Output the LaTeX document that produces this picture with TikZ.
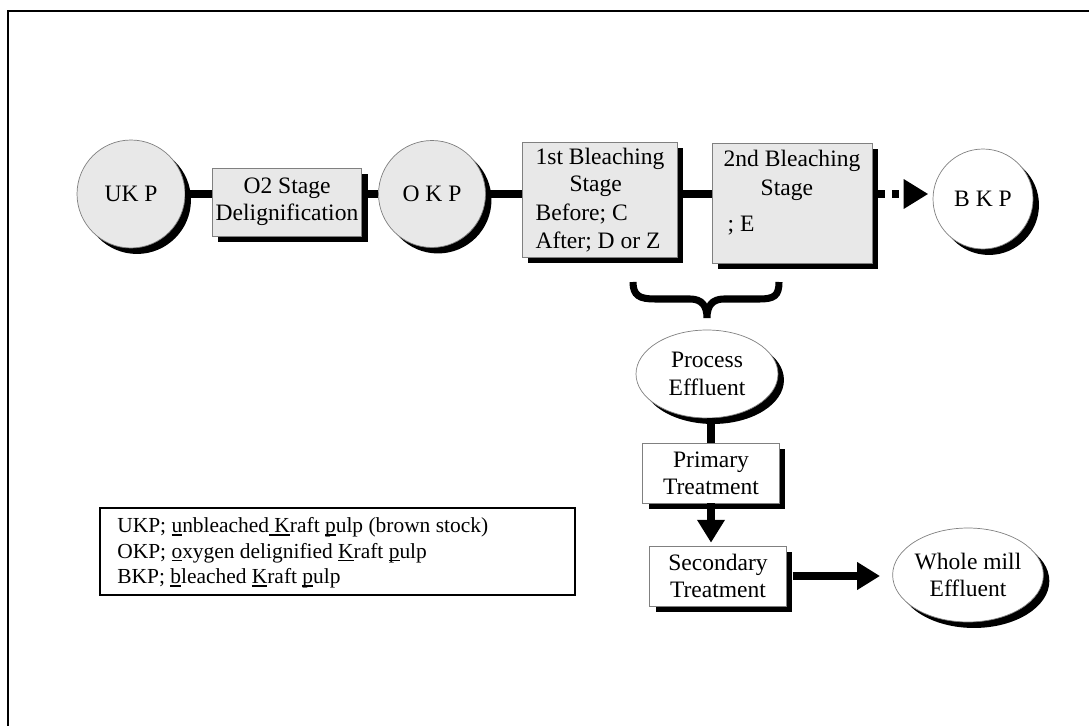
\documentclass[tikz,border=0pt]{standalone}
\usepackage{fontspec}
\setmainfont{Liberation Serif}
\usetikzlibrary{arrows.meta, shapes.geometric, shadows}
\definecolor{PulpGray}{RGB}{232, 232, 232}
\definecolor{EdgeGray}{RGB}{128, 128, 128}
\newcommand\keyletter[1]{\setbox0\hbox{#1}\rlap{\rule[-1.6pt]{\wd0}{0.8pt}}#1}

\begin{document}
\begin{tikzpicture}[x=0.02cm, y=-0.02cm, font=\fontsize{13.4}{15.5}\selectfont,
        blackshadow/.style={drop shadow={shadow xshift=3.4pt, shadow yshift=-3.4pt, opacity=1, fill=black}},
        pulpdisc/.style={circle, draw=EdgeGray, fill=PulpGray, inner sep=0pt, minimum size=2.16cm, blackshadow},
        stagebox/.style={rectangle, draw=EdgeGray, fill=PulpGray, inner sep=2pt, blackshadow},
        treatbox/.style={stagebox, fill=white, align=center, minimum width=2.73cm, minimum height=1.2cm},
        effluent/.style={ellipse, draw=EdgeGray, fill=white, inner sep=0pt, align=center, blackshadow},
        pipe/.style={line width=4.5pt},
        flow/.style={pipe, -{Triangle[length=13pt, width=15pt]}}]
        \useasboundingbox (0,0) rectangle (1089,726);
        \draw[line width=1.6pt] (8,726) -- (8,11) -- (1089,11);

        \node[pulpdisc] (ukp) at (131,194) {UK P};
        \node[stagebox, align=center, minimum width=2.98cm, minimum height=1.36cm] (o2) at (287,202) {O2 Stage\\Delignification};
        \node[pulpdisc, minimum size=2.14cm] (okp) at (432,194) {O K P};
        \node[stagebox, align=left, minimum width=3.1cm, minimum height=2.3cm] (bleach1) at (600,200) {1st Bleaching\\\hspace*{0.68cm}Stage\\[1pt]Before; C\\After; D or Z};
        \node[stagebox, align=left, minimum width=3.2cm, minimum height=2.4cm] (bleach2) at (792,203) {2nd Bleaching\\[1pt]\hspace*{0.74cm}Stage\\[5pt]\hspace*{0.08cm}; E\\[-6pt]\strut};
        \node[pulpdisc, fill=white, minimum size=2.0cm] (bkp) at (983,199) {B K P};

        \draw[pipe] (ukp) -- (ukp -| o2.west);
        \draw[pipe] (o2.east |- okp) -- (okp);
        \draw[pipe] (okp) -- (okp -| bleach1.west);
        \draw[pipe] (bleach1.east |- okp) -- (bleach2.west |- okp);
        \draw[pipe, dash pattern=on 4pt off 4pt, shorten <=3.4pt, shorten >=2.5pt, -{Triangle[length=14pt, width=16pt]}] (bleach2.east |- okp) -- (bkp.west |- okp);

        \draw[line width=4pt] (633,282) .. controls (633,296) and (640,299) .. (655,299) -- (690,299) .. controls (702,299) and (707,306) .. (707,318) .. controls (707,306) and (712,299) .. (724,299) -- (759,299) .. controls (774,299) and (779,296) .. (779,282);

        \node[effluent, minimum width=2.84cm, minimum height=1.76cm] (proc) at (707,374) {Process\\Effluent};
        \node[treatbox] (prim) at (711,473) {Primary\\Treatment};
        \node[treatbox] (second) at (718,576) {Secondary\\Treatment};
        \node[effluent, minimum width=2.8cm, minimum height=1.88cm] (whole) at (968,575) {Whole mill\\Effluent};

        \draw[pipe] (prim.north) -- (prim.north |- proc.south);
        \draw[flow, shorten >=1.7pt] (prim) -- (prim |- second.north);
        \draw[flow, shorten <=3.4pt, shorten >=7pt] (second) -- (second -| whole.west);

        \node[draw, line width=1.2pt, minimum width=9.5cm, minimum height=1.74cm] (legendbox) at (337.5,551.5) {};
        \node[anchor=west, align=left, inner sep=0pt, yshift=-0.03cm, font=\fontsize{12.2}{14.5}\selectfont] (legend) at ([xshift=0.36cm]legendbox.west) {UKP; \keyletter{u}nbleached\keyletter{\ K}raft \keyletter{p}ulp (brown stock)\\OKP; \keyletter{o}xygen delignified \keyletter{K}raft \keyletter{p}ulp\\BKP; \keyletter{b}leached \keyletter{K}raft \keyletter{p}ulp};
\end{tikzpicture}
\end{document}
